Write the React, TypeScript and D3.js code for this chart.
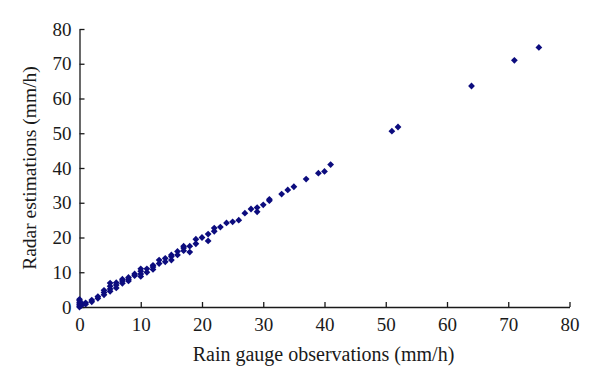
import { useEffect, useRef } from "react";
import * as d3 from "d3";

// rain gauge observations (x) and radar estimations (y), mm/h
const gauge = [
  0, 0, 0, 0, 0, 0, 0.3, 0.5, 1, 1, 2, 2, 3, 3, 4, 4, 4, 5, 5, 5, 5,
  6, 6, 6, 7, 7, 7, 8, 8, 8, 9, 9, 10, 10, 10, 10, 11, 11, 12, 12, 12,
  13, 13, 14, 14, 15, 15, 15, 16, 16, 17, 17, 17, 18, 18, 19, 19, 20, 21, 21,
  22, 22, 23, 24, 25, 26, 27, 28, 29, 29, 30, 31, 31, 33, 34, 35, 37, 39, 40, 41,
  51, 52, 64, 71, 75,
];
const radar = [
  2.2, 1.8, 1.2, 0.8, 0.3, 0, 0.5, 0.8, 1.2, 0.8, 2, 1.5, 3, 2.5, 4.8, 4.2, 3.5, 6.9, 6, 5.2, 4.5,
  7, 6.3, 5.5, 8, 7.5, 6.8, 8.5, 8, 7.5, 9.5, 9, 11, 10.3, 9.5, 8.8, 11, 10, 12, 11.5, 10.8,
  13.5, 12.5, 14, 13, 15, 14.5, 13.5, 16, 15, 17.5, 17, 16.2, 17.5, 15.8, 19.5, 18.2, 20, 21, 19,
  22.7, 21.8, 23, 24.2, 24.5, 25, 27, 28.2, 28.6, 27.4, 29.4, 30.6, 31, 32.5, 33.7, 34.6, 36.8, 38.5, 39, 41,
  50.6, 51.8, 63.6, 71, 74.7,
];
const xTicks = [0, 10, 20, 30, 40, 50, 60, 70, 80];
const yTicks = [0, 10, 20, 30, 40, 50, 60, 70, 80];

export default function App() {
  const ref = useRef<SVGSVGElement>(null);

  useEffect(() => {
    const svg = d3.select(ref.current);
    svg.selectAll("*").remove();

    const left = 79.5, right = 569.5, top = 29, bottom = 307;
    const font = "'Liberation Serif', 'Times New Roman', serif";
    const x = d3.scaleLinear().domain([0, 80]).range([left, right]);
    const y = d3.scaleLinear().domain([0, 80]).range([bottom, top]);

    svg.append("rect").attr("width", 600).attr("height", 388).attr("fill", "#fff");

    // x axis, ticks pointing inward
    const gx = svg.append("g")
      .attr("transform", `translate(0,${bottom})`)
      .call(d3.axisBottom(x).tickValues(xTicks).tickSize(-5).tickPadding(11).tickSizeOuter(0));
    gx.selectAll("text").attr("font-size", 19).attr("font-family", font).attr("fill", "#1a1a1a");

    const gy = svg.append("g")
      .attr("transform", `translate(${left},0)`)
      .call(d3.axisLeft(y).tickValues(yTicks).tickSize(-5).tickPadding(8).tickSizeOuter(0));
    gy.selectAll("text").attr("font-size", 19).attr("font-family", font).attr("fill", "#1a1a1a");

    svg.selectAll(".domain, .tick line").attr("stroke", "#1a1a1a").attr("stroke-width", 1.3);

    // rotated squares look like the reference's small diamonds
    const pts = gauge.map((g, i) => [g, radar[i]]);
    const sym = d3.symbol().type(d3.symbolSquare).size(23);
    svg.append("g").selectAll("path").data(pts).join("path")
      .attr("transform", (d) => `translate(${x(d[0])},${y(d[1])}) rotate(45)`)
      .attr("d", sym)
      .attr("fill", "#0c0c7e");

    svg.append("text")
      .attr("x", (left + right) / 2 - 1).attr("y", 361)
      .attr("text-anchor", "middle")
      .attr("font-family", font).attr("font-size", 20).attr("fill", "#1a1a1a")
      .text("Rain gauge observations (mm/h)");

    svg.append("text")
      .attr("transform", `translate(36,${(top + bottom) / 2}) rotate(-90)`)
      .attr("text-anchor", "middle")
      .attr("font-family", font).attr("font-size", 19.5).attr("fill", "#1a1a1a")
      .text("Radar estimations (mm/h)");
  }, []);

  return (
    <svg ref={ref} width={600} height={388} style={{ position: "absolute", left: 0, top: 0 }} />
  );
}
